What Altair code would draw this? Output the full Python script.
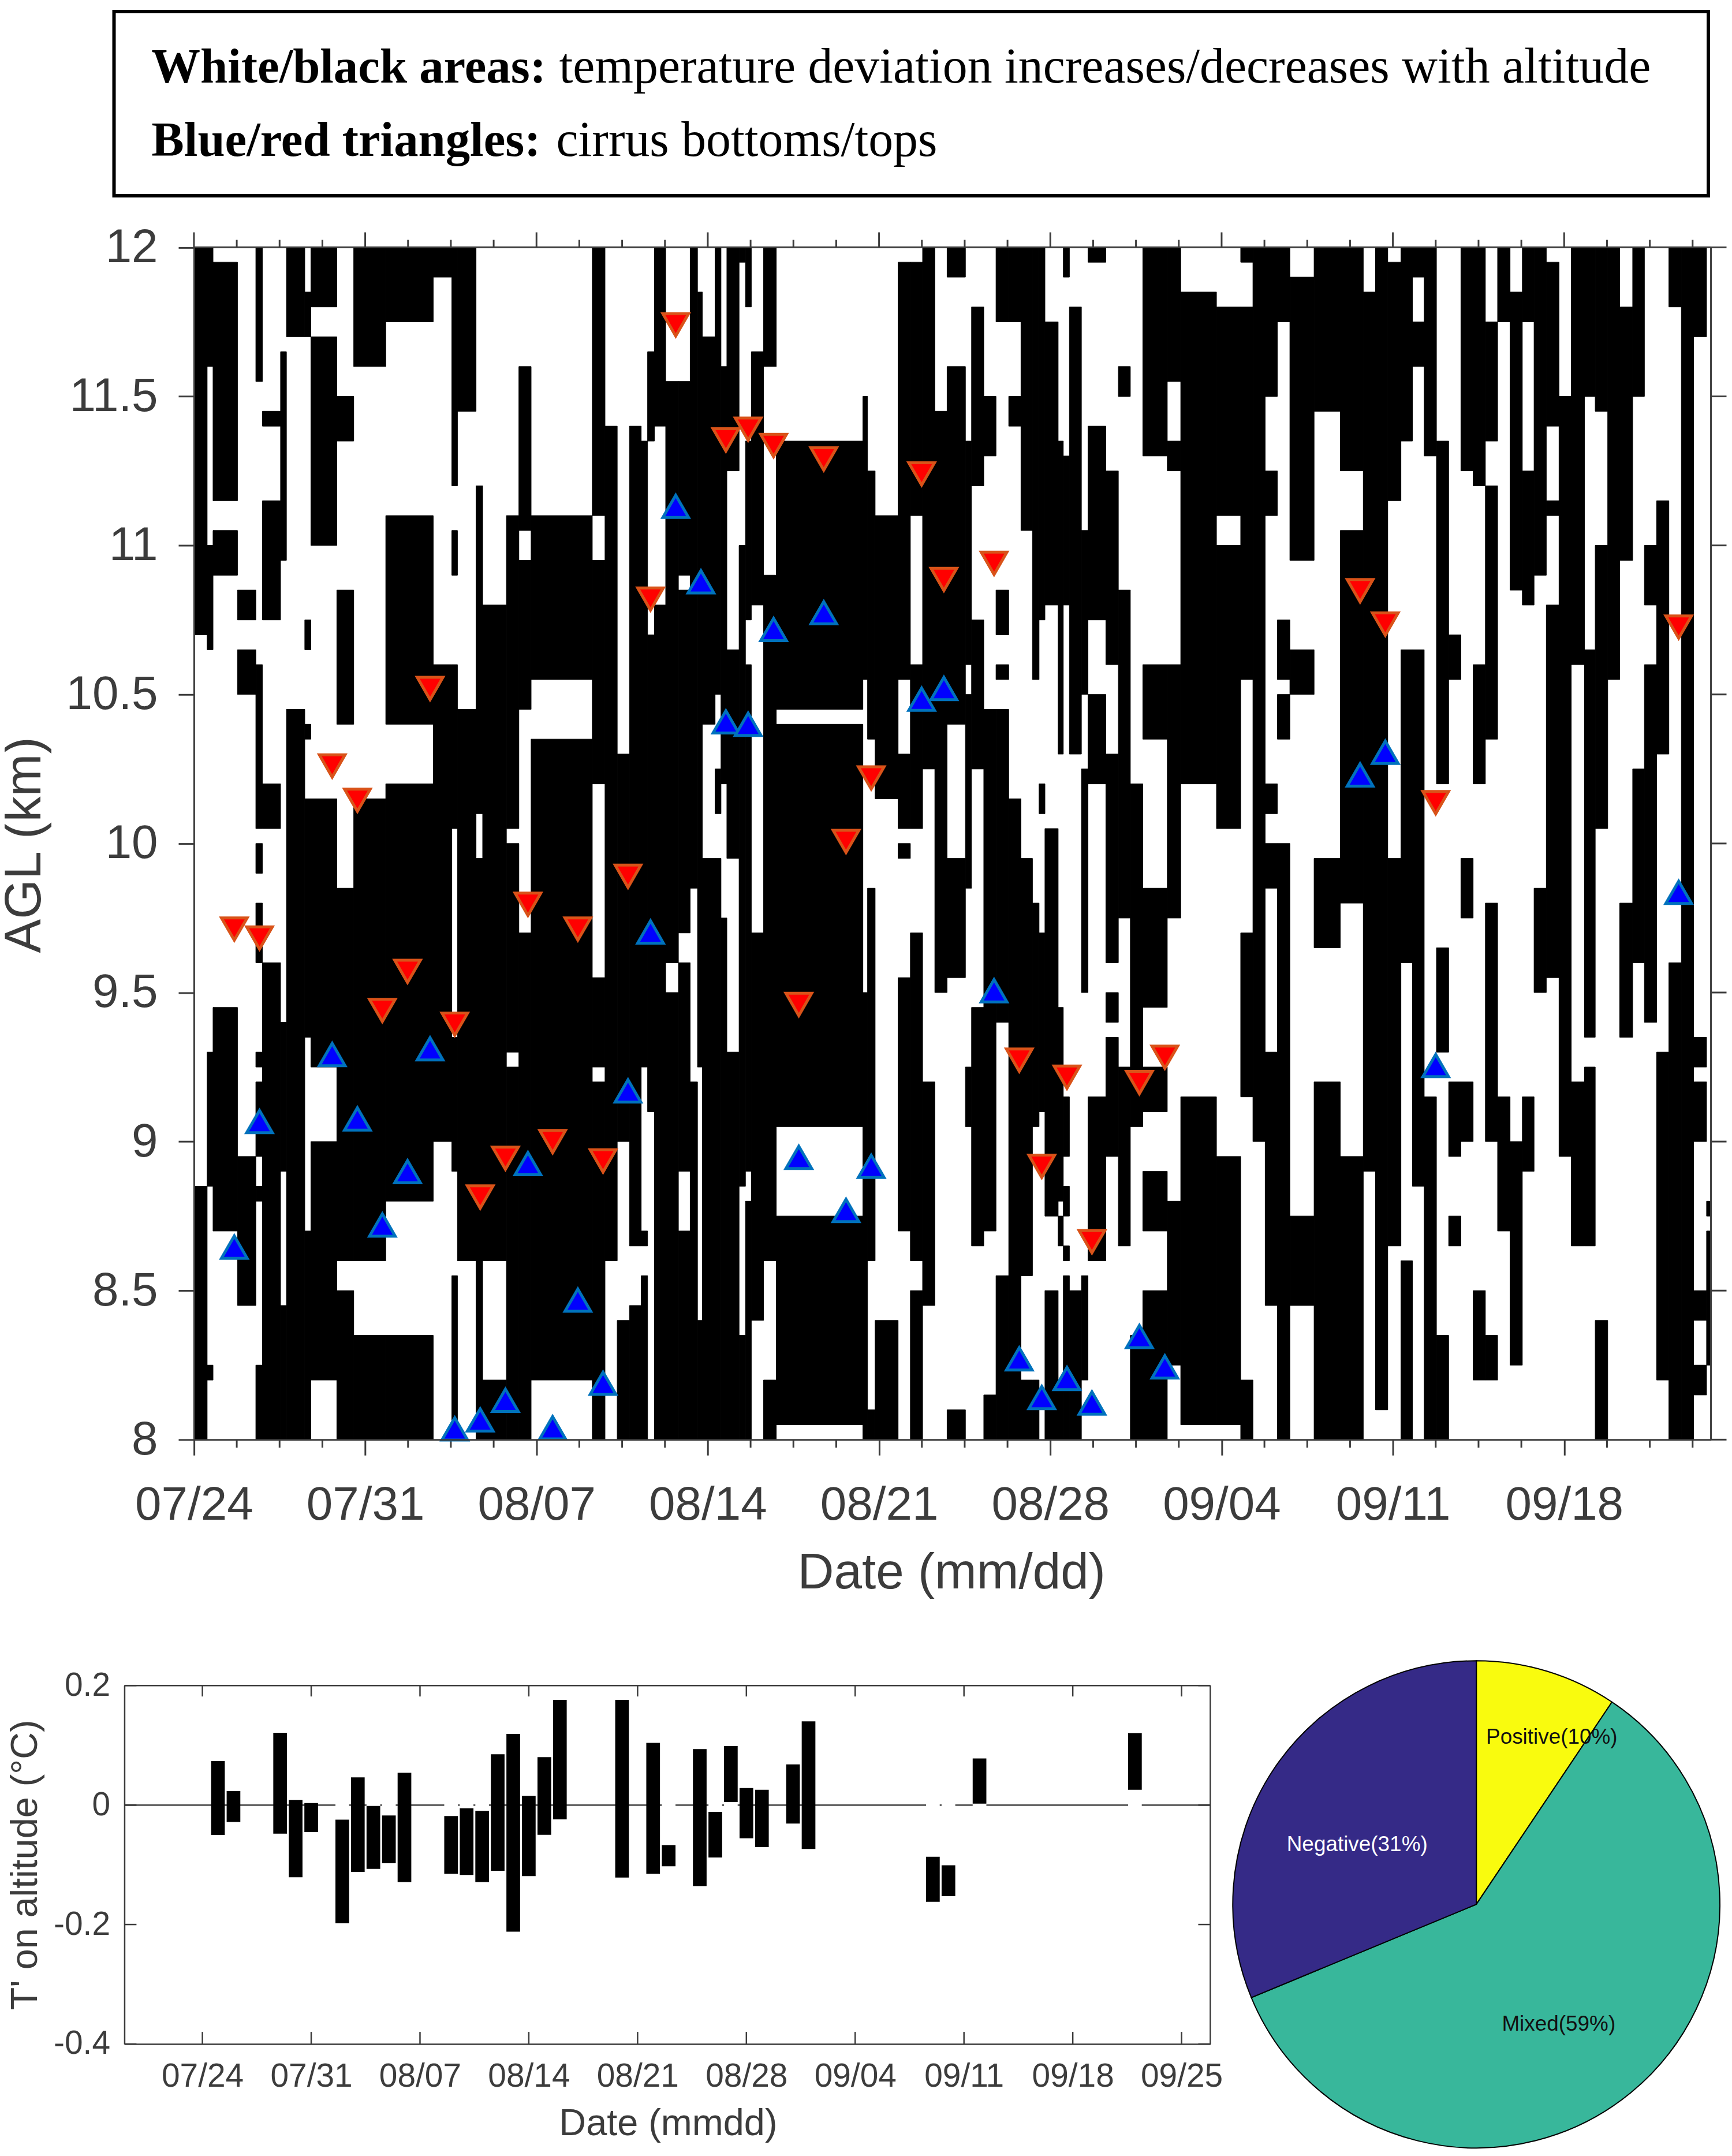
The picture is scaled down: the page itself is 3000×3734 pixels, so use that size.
import json
import altair as alt
import pandas as pd

# ---------- main panel data (days after 07/24, km AGL) ----------
column_edges = [0, .54, .78, 1.78, 2.53, 2.80, 3.54, 3.78, 4.53, 4.78, 5.84, 6.53, 7.84, 9.78, 10.54, 10.77, 11.53, 11.80,
    12.77, 13.28, 13.78, 16.28, 16.80, 17.30, 17.80, 18.28, 18.54, 18.82, 19.28, 19.80, 20.28, 20.58, 20.78, 21.30, 21.54,
    21.78, 22.28, 22.54, 22.78, 23.28, 23.80, 27.34, 27.53, 27.84, 28.78, 29.28, 29.78, 30.28, 30.78, 31.53, 31.78, 32.28,
    32.78, 33.30, 33.80, 34.27, 34.54, 34.78, 35.32, 35.53, 35.78, 36.27, 36.54, 37.27, 37.78, 38.27, 38.78, 39.78, 40.33,
    41.79, 42.78, 43.28, 43.78, 44.28, 44.79, 45.78, 46.85, 47.79, 48.29, 48.79, 49.33, 49.80, 50.28, 50.78, 51.28, 51.78,
    52.28, 52.78, 53.28, 53.79, 54.29, 54.77, 55.27, 55.79, 56.29, 56.83, 57.27, 57.78, 58.27, 58.80, 59.28, 59.78, 60.28,
    60.79, 61.29, 61.82, 62]

black_runs = [
    [(8, 8.85), (10.7, 12)],
    [(8.2, 8.25), (8.85, 9.3), (10.65, 11.0), (11.6, 12)],
    [(8.7, 9.45), (10.9, 11.05), (11.15, 11.95)],
    [(8.45, 8.95), (10.5, 10.65), (10.75, 10.85)],
    [(8, 8.25), (8.8, 8.85), (8.95, 9.2), (9.25, 9.3), (9.6, 9.8), (9.9, 10.0), (10.05, 10.6), (11.55, 12)],
    [(8, 9.6), (10.05, 10.2), (10.75, 11.15), (11.4, 11.45)],
    [(8, 8.45), (8.9, 9.4), (10.95, 11.65)],
    [(8, 10.45), (11.7, 12)],
    [(8, 8.7), (9.35, 10.15), (10.35, 10.4), (10.65, 10.75), (11.7, 11.85)],
    [(8.2, 9.0), (9.25, 10.15), (11.0, 11.7), (11.8, 12)],
    [(8, 8.5), (8.6, 9.85), (10.4, 10.85), (11.35, 11.5)],
    [(8, 8.35), (8.6, 10.15), (11.6, 12)],
    [(8, 8.35), (8.8, 10.2), (10.4, 11.1), (11.75, 12)],
    [(9.0, 10.6), (11.9, 12)],
    [(8, 8.55), (8.9, 9.35), (10.05, 10.6), (10.9, 11.05), (11.2, 12)],
    [(8.6, 10.45), (11.45, 12)],
    [(8, 9.95), (10.1, 11.2)],
    [(8, 8.2), (8.6, 10.8)],
    [(8, 9.25), (9.3, 10.0), (10.05, 11.1)],
    [(8, 9.7), (10.45, 10.95), (11.05, 11.6)],
    [(8.2, 10.35), (10.55, 11.1)],
    [(8, 9.2), (9.25, 9.55), (10.2, 10.95), (11.1, 12)],
    [(8.6, 11.4)],
    [(8, 8.4), (9.0, 10.3)],
    [(8, 8.45), (8.65, 11.4)],
    [(8, 8.55), (8.65, 8.7), (9.25, 11.35)],
    [(9.1, 10.7), (11.35, 11.65)],
    [(8, 10.8), (11.4, 12)],
    [(8, 9.5), (9.6, 11.55)],
    [(8, 8.7), (8.9, 9.6), (9.7, 10.85), (10.9, 11.55)],
    [(8, 9.2), (9.85, 12)],
    [(8, 8.4), (9.25, 11.85)],
    [(8, 9.95), (10.4, 11.7)],
    [(8, 9.95), (10.1, 10.25), (10.5, 12)],
    [(8, 9.75), (10.2, 11.6)],
    [(8, 9.3), (9.95, 10.65), (11.25, 12)],
    [(8, 8.35), (8.85, 11.0), (11.95, 12)],
    [(8, 8.8), (8.9, 10.6), (10.75, 11.35), (11.8, 12)],
    [(8.4, 9.7), (10.8, 11.65)],
    [(8, 8.2), (8.6, 10.9), (11.6, 12)],
    [(8.05, 8.75), (9.05, 10.4), (10.45, 11.35)],
    [(8, 9.5), (10.55, 11.5)],
    [(8, 8.1), (8.6, 9.85), (10.35, 11.25)],
    [(8, 8.4), (10.15, 11.1)],
    [(8.7, 9.55), (9.95, 10.0), (10.05, 10.3), (10.55, 11.95)],
    [(8, 8.5), (8.6, 9.7), (10.05, 10.6), (11.1, 11.95)],
    [(8.45, 9.2), (10.25, 12)],
    [(9.5, 11.45)],
    [(8, 8.1), (9.55, 9.95), (10.4, 11.6), (11.9, 12)],
    [(9.05, 9.25), (9.85, 10.5), (10.6, 11.35)],
    [(8.65, 9.45), (10.25, 10.75), (11.2, 11.8)],
    [(8, 8.15), (8.7, 10.45), (11.3, 11.5)],
    [(8, 8.55), (9.4, 10.45), (10.55, 10.6), (10.7, 10.85), (11.75, 12)],
    [(8, 10.15), (11.4, 11.5), (11.75, 12)],
    [(8, 8.2), (8.55, 9.95), (11.05, 12)],
    [(8, 8.2), (9.05, 9.8), (10.55, 12)],
    [(9.1, 9.7), (10.1, 10.2), (10.75, 12)],
    [(8, 8.5), (8.75, 10.05), (10.8, 11.75)],
    [(8, 8.2), (8.65, 8.75), (8.8, 9.45), (10.3, 11.35)],
    [(8, 8.55), (8.6, 8.65), (8.75, 8.85), (8.95, 9.15), (10.8, 11.3), (11.9, 12)],
    [(8, 8.5), (10.3, 11.8)],
    [(8.2, 8.55), (9.5, 10.25), (10.5, 11.05)],
    [(8.6, 9.15), (10.2, 10.5), (10.75, 11.4), (11.95, 12)],
    [(8.95, 9.35), (9.4, 9.5), (9.6, 10.3), (10.6, 11.25)],
    [(8.65, 9.25), (9.75, 10.85), (11.5, 11.6)],
    [(8, 8.35), (9.05, 10.2)],
    [(8, 8.5), (8.7, 8.9), (9.1, 9.25), (9.45, 9.85), (10.35, 10.6), (11.3, 12)],
    [(8.25, 8.8), (9.75, 10.6), (11.25, 11.35), (11.55, 12)],
    [(8.05, 9.15), (10.2, 11.85)],
    [(8.05, 8.95), (10.05, 11.0), (11.1, 11.8)],
    [(8, 8.2), (9.15, 9.7), (10.55, 11.8), (11.95, 12)],
    [(9.0, 12)],
    [(8.45, 9.3), (9.85, 10.0), (10.1, 10.2), (11.1, 11.25), (11.5, 12)],
    [(8, 10.0), (10.35, 10.5), (10.55, 10.75), (11.75, 12)],
    [(8.45, 8.75), (10.5, 10.65), (10.95, 11.9)],
    [(8, 9.2), (9.65, 9.95), (11.45, 12)],
    [(8, 8.95), (9.8, 11.05), (11.25, 12)],
    [(8.9, 11.85)],
    [(8.1, 12)],
    [(8.65, 9.95), (11.15, 11.95)],
    [(8, 8.6), (9.6, 10.65), (11.35, 12)],
    [(8.85, 10.65), (11.6, 11.75), (11.9, 12)],
    [(8, 9.15), (11.3, 12)],
    [(8, 8.35), (9.3, 9.65), (10.2, 11.35)],
    [(8.65, 8.75), (8.95, 9.2), (10.55, 10.7)],
    [(9.0, 9.2), (9.75, 9.95), (11.25, 12)],
    [(8.2, 8.5), (10.2, 10.6), (11.2, 12)],
    [(8.2, 8.35), (9.0, 9.8), (10.35, 11.2), (11.35, 11.75)],
    [(8.7, 9.15), (11.75, 12)],
    [(8.25, 9.0), (10.85, 11.85)],
    [(8.9, 9.15), (10.8, 11.25), (11.75, 12)],
    [(9.5, 9.85), (10.9, 12)],
    [(9.55, 10.8), (11.1, 11.15), (11.4, 11.95)],
    [(8.95, 11.5)],
    [(8.65, 9.2), (10.6, 12)],
    [(8.65, 9.25), (9.35, 10.65), (11.5, 12)],
    [(8, 8.4), (10.05, 11.0), (11.45, 12)],
    [(10.55, 12)],
    [(9.35, 9.8), (10.95, 11.8)],
    [(9.6, 10.25), (11.5, 12)],
    [(9.4, 10.6), (10.8, 11.0)],
    [(8.2, 9.3), (10.3, 11.15)],
    [(8, 9.6), (11.8, 12)],
    [(8, 12)],
    [(8.15, 8.25), (8.4, 8.5), (9.0, 9.2), (9.25, 9.35), (11.7, 12)],
    [(8.25, 8.7), (8.75, 8.8)],
]

top_days = [19.69, 18.66, 9.65, 5.65, 6.68, 17.74, 13.65, 15.69, 1.65, 2.68, 8.73, 7.70, 10.66, 14.66, 12.73, 16.72, 11.70,
            21.74, 22.65, 23.69, 25.74, 29.74, 30.65, 32.70, 27.68, 26.65, 24.72, 33.73, 35.68, 38.64, 39.68, 34.65, 36.70,
            47.66, 48.69, 50.75, 60.68]
top_km = [11.74, 10.82, 10.52, 10.26, 10.145, 9.89, 9.796, 9.713, 9.713, 9.683, 9.571, 9.44, 9.394, 9.0, 8.944, 8.935, 8.814,
          11.354, 11.39, 11.335, 11.29, 11.24, 10.886, 10.94, 10.22, 10.007, 9.46, 9.273, 9.216, 9.198, 9.283, 8.917, 8.664,
          10.848, 10.736, 10.137, 10.726]
bottom_days = [19.69, 20.72, 21.74, 22.65, 23.69, 25.74, 29.74, 30.65, 18.66, 17.74, 5.65, 2.68, 6.68, 9.65, 13.65, 8.73, 7.70,
               1.65, 15.69, 16.72, 12.73, 11.70, 10.66, 14.66, 24.72, 27.68, 26.65, 32.70, 38.64, 39.68, 33.73, 35.68, 34.65,
               36.70, 47.66, 48.69, 50.75, 60.68]
bottom_km = [11.131, 10.878, 10.408, 10.40, 10.718, 10.774, 10.484, 10.52, 9.703, 9.17, 9.292, 9.067, 9.076, 9.311, 8.926, 8.899,
             8.72, 8.646, 8.468, 8.189, 8.132, 8.066, 8.036, 8.04, 8.947, 8.917, 8.769, 9.506, 8.346, 8.244, 8.271, 8.205, 8.141,
             8.123, 10.23, 10.306, 9.255, 9.836]

main_tick_days = [0, 7, 14, 21, 28, 35, 42, 49, 56]
main_tick_labels = ['07/24', '07/31', '08/07', '08/14', '08/21', '08/28', '09/04', '09/11', '09/18']
main_minor_days = [d * 1.75 for d in range(0, 36) if d % 4 != 0]
km_ticks = [8, 8.5, 9, 9.5, 10, 10.5, 11, 11.5, 12]

# ---------- lower-left panel ----------
bar_days = [1, 2, 5, 6, 7, 9, 10, 11, 12, 13, 16, 17, 18, 19, 20, 21, 22, 23, 27, 29, 30, 32, 33, 34, 35, 36, 38, 39, 47, 48, 50, 60]
bar_hi = [.0736, .0234, .121, .0087, .0033, -.0245, .0463, -.0016, -.0174, .054, -.0185, -.0054, -.0098, .085, .119, .0153, .080, .176,
          .176, .104, -.067, .0937, -.0114, .0986, .0283, .0256, .0681, .140, -.0866, -.1008, .0779, .1204]
bar_lo = [-.0501, -.0283, -.048, -.121, -.0452, -.198, -.112, -.107, -.0975, -.129, -.115, -.117, -.129, -.110, -.212, -.119, -.050, -.024,
          -.1215, -.115, -.1025, -.1357, -.0877, .0049, -.0556, -.0703, -.031, -.0736, -.1619, -.1526, .0022, .0256]
bar_half_width = 0.44
lower_tick_days = [0, 7, 14, 21, 28, 35, 42, 49, 56, 63]
lower_tick_labels = main_tick_labels + ['09/25']
dev_ticks = [-0.4, -0.2, 0, 0.2]

# ---------- pie ----------
pie_names = ['Positive', 'Mixed', 'Negative']
pie_share = [9.4, 59.35, 31.25]
pie_order = [1, 2, 3]
pie_colors = ['#f9fb0e', '#38b79b', '#352a87']
pie_labels = ['Positive(10%)', 'Mixed(59%)', 'Negative(31%)']
pie_label_colors = ['#111111', '#111111', '#ffffff']
pie_label_x = [2695, 2707, 2357]
pie_label_y = [3012, 3510, 3199]

# ---------- note box ----------
note_bold = ['White/black areas:', 'Blue/red triangles:']
note_plain = ['temperature deviation increases/decreases with altitude', 'cirrus bottoms/tops']

W, H = 2992, 3726
PAD = 8
DARK = '#3c3c3c'
SANS = 'Liberation Sans'
SERIF = 'Liberation Serif'

def labels_expr(names, step):
    return json.dumps(names) + '[datum.value/' + str(step) + ']'

# ---------- main ----------
mx_range = [336.8 - PAD, 2971.5 - PAD]
my_range = [2495 - PAD, 424.5 - PAD]
mx = alt.Scale(domain=[0, 62], range=mx_range, nice=False, zero=False)
my = alt.Scale(domain=[8, 12], range=my_range, nice=False, zero=False)

rows = []
for i, runs in enumerate(black_runs):
    for lo, hi in runs:
        rows.append({'x0': column_edges[i], 'x1': column_edges[i + 1], 'lo': lo, 'hi': hi})
cells = pd.DataFrame(rows)

main_x_axis = alt.Axis(orient='bottom', values=main_tick_days, labelExpr=labels_expr(main_tick_labels, 7), offset=my_range[0] - H,
                       title='Date (mm/dd)', titleFont=SANS, titleFontSize=87.5, titleFontWeight='normal', titleColor=DARK,
                       titleX=1652 - PAD, titleY=2753 - 2495, titleBaseline='alphabetic',
                       labelFont=SANS, labelFontSize=82, labelLimit=500, labelColor=DARK, labelPadding=47, labelFlush=False, labelOverlap=False,
                       tickSize=27, tickWidth=3, tickColor=DARK, domainColor=DARK, domainWidth=3, grid=False, zindex=1)
main_y_axis = alt.Axis(orient='left', values=km_ticks, labelExpr="datum.value + ''", offset=-mx_range[0],
                       title='AGL (km)', titleFont=SANS, titleFontSize=88.5, titleFontWeight='normal', titleColor=DARK,
                       titleX=70 - 336.8, titleY=1462 - PAD, titleAngle=270, titleBaseline='alphabetic',
                       labelFont=SANS, labelFontSize=82, labelLimit=500, labelColor=DARK, labelPadding=36, labelFlush=False, labelOverlap=False,
                       tickSize=27, tickWidth=3, tickColor=DARK, domainColor=DARK, domainWidth=3, grid=False, zindex=1)

l_cells = alt.Chart(cells).mark_rect(color='black', stroke='black', strokeWidth=1).encode(
    x=alt.X('x0:Q', scale=mx, axis=main_x_axis), x2='x1:Q',
    y=alt.Y('lo:Q', scale=my, axis=main_y_axis), y2='hi:Q')

frame_df = pd.DataFrame({'a': [0], 'b': [62], 'lo': [8], 'hi': [12]})
l_top = alt.Chart(frame_df).mark_rule(color=DARK, strokeWidth=3).encode(
    x=alt.X('a:Q', scale=mx, axis=None), x2='b:Q', y=alt.Y('hi:Q', scale=my, axis=None))
l_right = alt.Chart(frame_df).mark_rule(color=DARK, strokeWidth=3).encode(
    x=alt.X('b:Q', scale=mx, axis=None), y=alt.Y('lo:Q', scale=my, axis=None), y2='hi:Q')

major_df = pd.DataFrame({'d': main_tick_days})
minor_df = pd.DataFrame({'d': main_minor_days})
km_df = pd.DataFrame({'k': km_ticks})

def vtick(df, y0, y1, scale, width=3):
    return alt.Chart(df).mark_rule(color=DARK, strokeWidth=width).encode(
        x=alt.X('d:Q', scale=scale, axis=None), y=alt.value(y0), y2=alt.value(y1))

l_top_major = vtick(major_df, my_range[1] - 26, my_range[1], mx)
l_top_minor = vtick(minor_df, my_range[1] - 13, my_range[1], mx)
l_bot_minor = vtick(minor_df, my_range[0], my_range[0] + 14, mx)
l_right_ticks = alt.Chart(km_df).mark_rule(color=DARK, strokeWidth=3).encode(
    y=alt.Y('k:Q', scale=my, axis=None), x=alt.value(mx_range[1]), x2=alt.value(mx_range[1] + 27))

tops = pd.DataFrame({'d': top_days, 'k': top_km})
bottoms = pd.DataFrame({'d': bottom_days, 'k': bottom_km})
l_red = alt.Chart(tops).mark_point(shape='triangle-down', filled=True, fill='#ff0000', stroke='#d95319', strokeWidth=5,
                                   size=2000, opacity=1).encode(
    x=alt.X('d:Q', scale=mx, axis=None), y=alt.Y('k:Q', scale=my, axis=None))
l_blue = alt.Chart(bottoms).mark_point(shape='triangle-up', filled=True, fill='#0000ff', stroke='#0072bd', strokeWidth=5,
                                       size=2000, opacity=1).encode(
    x=alt.X('d:Q', scale=mx, axis=None), y=alt.Y('k:Q', scale=my, axis=None))

main_layers = [l_cells, l_top, l_right, l_top_major, l_top_minor, l_bot_minor, l_right_ticks, l_red, l_blue]

# ---------- lower-left ----------
bx_range = [216 - PAD, 2102 - PAD]
by_range = [3544.5 - PAD, 2922 - PAD]
bx = alt.Scale(domain=[-5.02, 64.85], range=bx_range, nice=False, zero=False)
by = alt.Scale(domain=[-0.4, 0.2], range=by_range, nice=False, zero=False)
bars = pd.DataFrame({'day': bar_days, 'hi': bar_hi, 'lo': bar_lo})
bars['x0'] = bars['day'] - bar_half_width
bars['x1'] = bars['day'] + bar_half_width

b_x_axis = alt.Axis(orient='bottom', values=lower_tick_days, labelExpr=labels_expr(lower_tick_labels, 7), offset=by_range[0] - H,
                    title='Date (mmdd)', titleFont=SANS, titleFontSize=65, titleFontWeight='normal', titleColor=DARK,
                    titleX=1160 - PAD, titleY=3702 - 3544.5, titleBaseline='alphabetic',
                    labelFont=SANS, labelFontSize=57, labelLimit=500, labelColor=DARK, labelPadding=29, labelFlush=False, labelOverlap=False,
                    ticks=False, domainColor=DARK, domainWidth=2.5, grid=False, zindex=1)
b_y_axis = alt.Axis(orient='left', values=dev_ticks, labelExpr="datum.value + ''", offset=-bx_range[0],
                    title="T' on altitude (°C)", titleFont=SANS, titleFontSize=65, titleFontWeight='normal', titleColor=DARK,
                    titleX=64 - 216, titleY=3233 - PAD, titleAngle=270, titleBaseline='alphabetic',
                    labelFont=SANS, labelFontSize=57, labelLimit=500, labelColor=DARK, labelPadding=25, labelFlush=False, labelOverlap=False,
                    ticks=False, domainColor=DARK, domainWidth=2.5, grid=False, zindex=1)

b_frame_df = pd.DataFrame({'a': [-5.02], 'b': [64.85], 'lo': [-0.4], 'hi': [0.2], 'z': [0]})
b_base = alt.Chart(b_frame_df).mark_rule(color='#666666', strokeWidth=3.5).encode(
    x=alt.X('a:Q', scale=bx, axis=b_x_axis), x2='b:Q', y=alt.Y('z:Q', scale=by, axis=b_y_axis))
gaps = bars[(bars['hi'] < 0) | (bars['lo'] > 0)]
b_gaps = alt.Chart(gaps).transform_calculate(z='0').mark_rule(color='white', strokeWidth=5).encode(
    x=alt.X('x0:Q', scale=bx, axis=None), x2='x1:Q', y=alt.Y('z:Q', scale=by, axis=None))
b_bars = alt.Chart(bars).mark_rect(color='black').encode(
    x=alt.X('x0:Q', scale=bx, axis=None), x2='x1:Q', y=alt.Y('lo:Q', scale=by, axis=None), y2='hi:Q')
b_top = alt.Chart(b_frame_df).mark_rule(color=DARK, strokeWidth=2.5).encode(
    x=alt.X('a:Q', scale=bx, axis=None), x2='b:Q', y=alt.Y('hi:Q', scale=by, axis=None))
b_right = alt.Chart(b_frame_df).mark_rule(color=DARK, strokeWidth=2.5).encode(
    x=alt.X('b:Q', scale=bx, axis=None), y=alt.Y('lo:Q', scale=by, axis=None), y2='hi:Q')
ltick_df = pd.DataFrame({'d': lower_tick_days})
dev_df = pd.DataFrame({'v': dev_ticks})
b_t_top = vtick(ltick_df, by_range[1], by_range[1] + 19, bx, 2.5)
b_t_bot = vtick(ltick_df, by_range[0] - 21, by_range[0], bx, 2.5)
b_t_left = alt.Chart(dev_df).mark_rule(color=DARK, strokeWidth=2.5).encode(
    y=alt.Y('v:Q', scale=by, axis=None), x=alt.value(bx_range[0]), x2=alt.value(bx_range[0] + 21))
b_t_right = alt.Chart(dev_df).mark_rule(color=DARK, strokeWidth=2.5).encode(
    y=alt.Y('v:Q', scale=by, axis=None), x=alt.value(bx_range[1] - 21), x2=alt.value(bx_range[1]))
lower_layers = [b_base, b_gaps, b_bars, b_top, b_right, b_t_top, b_t_bot, b_t_left, b_t_right]

# ---------- pie ----------
pie_df = pd.DataFrame({'name': pie_names, 'share': pie_share, 'ord': pie_order})
p_arc = alt.Chart(pie_df).mark_arc(outerRadius=423, stroke='black', strokeWidth=2).encode(
    theta=alt.Theta('share:Q', stack=True),
    order=alt.Order('ord:Q'),
    color=alt.Color('name:N', scale=alt.Scale(domain=pie_names, range=pie_colors), legend=None),
    x=alt.value(2564 - PAD), y=alt.value(3302 - PAD))
pie_texts = []
for i in range(3):
    pie_texts.append(alt.Chart(pd.DataFrame({'t': [pie_labels[i]]})).mark_text(
        font=SANS, fontSize=37, color=pie_label_colors[i], align='center', baseline='middle').encode(
        text='t:N', x=alt.value(pie_label_x[i] - PAD), y=alt.value(pie_label_y[i] - PAD)))

# ---------- note box ----------
box_df = pd.DataFrame({'t': ['box']})
n_box = alt.Chart(box_df).mark_rect(fillOpacity=0, stroke='black', strokeWidth=6).encode(
    x=alt.value(198 - PAD), x2=alt.value(2967 - PAD), y=alt.value(15 - PAD), y2=alt.value(335 - PAD))
note_parts = []
for text, weight, size, px, py in [(note_bold[0], 'bold', 85, 263, 138), (note_plain[0], 'normal', 86, 971, 138),
                                   (note_bold[1], 'bold', 85, 263, 266), (note_plain[1], 'normal', 86, 966, 266)]:
    note_parts.append(alt.Chart(pd.DataFrame({'t': [text]})).mark_text(
        font=SERIF, fontSize=size, fontWeight=weight, color='black', align='left', baseline='alphabetic').encode(
        text='t:N', x=alt.value(px - PAD), y=alt.value(py - PAD)))

chart = alt.layer(*main_layers, *lower_layers, p_arc, *pie_texts, n_box, *note_parts).resolve_scale(
    x='independent', y='independent', color='independent', theta='independent'
).properties(
    width=W, height=H, padding=0, autosize=alt.AutoSizeParams(type='none'), background='white'
).configure_view(strokeWidth=0)

chart.save("out.html", embed_options={"renderer": "svg", "actions": False})
